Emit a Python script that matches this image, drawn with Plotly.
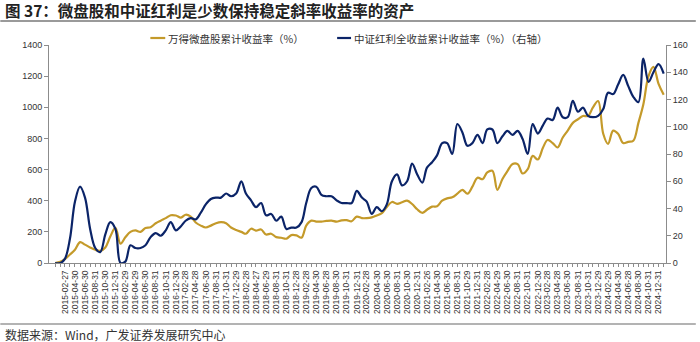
import pandas as pd
import plotly.graph_objects as go

# ---------------- data ----------------
dates = pd.date_range("2014-12-31", "2025-01-31", freq="ME")

microcap = [0, 8, 25, 55, 85, 134, 118, 100, 85, 78, 100, 170,
            225, 124, 165, 200, 209, 200, 225, 230, 255, 272,
            288, 307, 305, 292, 310, 298, 260, 240, 228, 240,
            255, 262, 256, 228, 212, 200, 188, 220, 208, 215,
            183, 188, 166, 162, 156, 179, 177, 163, 240, 272,
            266, 266, 270, 272, 266, 274, 275, 268, 298, 288,
            288, 293, 305, 320, 360, 392, 380, 390, 400, 379,
            345, 322, 342, 362, 364, 400, 415, 422, 445, 470,
            445, 490, 548, 538, 582, 592, 470, 540, 590, 636,
            635, 575, 603, 688, 665, 740, 790, 770, 742, 806,
            850, 900, 923, 944, 944, 1000, 1040, 830, 765, 850,
            830, 770, 778, 785, 900, 1020, 1200, 1260, 1150, 1080]

dividend = [0, 0, 3, 18, 45, 56, 48, 25, 11, 8, 21, 30,
            25, 0, 1, 13, 11, 11, 13, 19, 22, 20,
            24, 30, 24, 27, 31, 33, 32, 37, 43, 47,
            48, 48, 51, 49, 51, 60, 51, 46, 41, 44,
            35, 36, 31, 34, 25, 26, 26, 30, 44, 55,
            56, 50, 49, 49, 46, 44, 44, 44, 53, 48,
            45, 36, 41, 38, 43, 60, 65, 57, 60, 73,
            65, 59, 70, 74, 79, 88, 88, 80, 102, 96,
            86, 88, 94, 88, 98, 98, 88, 93, 97, 94,
            97, 91, 80, 102, 95, 101, 106, 105, 114, 107,
            107, 119, 111, 114, 108, 107, 108, 113, 125, 124,
            131, 138, 130, 122, 118, 150, 133, 140, 146, 139]

tick_labels = []
for y in range(2015, 2025):
    for mth in [2, 4, 6, 8, 10, 12]:
        tick_labels.append(pd.Timestamp(y, mth, 1) + pd.offsets.MonthEnd(0))
# trading-day labels as shown in the chart
tick_text = ["2015-02-27", "2015-04-30", "2015-06-30", "2015-08-31", "2015-10-30", "2015-12-31",
             "2016-02-29", "2016-04-29", "2016-06-30", "2016-08-31", "2016-10-31", "2016-12-30",
             "2017-02-28", "2017-04-28", "2017-06-30", "2017-08-31", "2017-10-31", "2017-12-29",
             "2018-02-28", "2018-04-27", "2018-06-29", "2018-08-31", "2018-10-31", "2018-12-28",
             "2019-02-28", "2019-04-30", "2019-06-28", "2019-08-30", "2019-10-31", "2019-12-31",
             "2020-02-28", "2020-04-30", "2020-06-30", "2020-08-31", "2020-10-30", "2020-12-31",
             "2021-02-26", "2021-04-30", "2021-06-30", "2021-08-31", "2021-10-29", "2021-12-31",
             "2022-02-28", "2022-04-29", "2022-06-30", "2022-08-31", "2022-10-31", "2022-12-30",
             "2023-02-28", "2023-04-28", "2023-06-30", "2023-08-31", "2023-10-31", "2023-12-29",
             "2024-02-29", "2024-04-30", "2024-06-28", "2024-08-30", "2024-10-31", "2024-12-31"]

name_gold = "万得微盘股累计收益率（%）"
name_blue = "中证红利全收益累计收益率（%）（右轴）"
title_text = "<b>图 37：微盘股和中证红利是少数保持稳定斜率收益率的资产</b>"
source_text = "数据来源：Wind，广发证券发展研究中心"

GOLD = "#C49A2A"
BLUE = "#0B2468"
AXIS = "#8C8C8C"
FONT = "Liberation Sans, Arial, Noto Sans CJK SC, sans-serif"
CJK = "Noto Sans CJK SC, sans-serif"

W, H = 700, 342
L, R, T, B = 49, 30, 45, 79
pw, ph = W - L - R, H - T - B


def px(x):
    return (x - L) / pw


def py(y):
    return (H - B - y) / ph


# all month ticks; labels every other month
tickvals = list(dates)
label_map = {d: t for d, t in zip(tick_labels, tick_text)}
ticktext = [label_map.get(d, "") for d in dates]

fig = go.Figure()
fig.add_trace(go.Scatter(x=dates, y=microcap, name=name_gold, mode="lines",
                         line=dict(color=GOLD, width=2.2, shape="spline", smoothing=1.0),
                         yaxis="y", showlegend=False))
fig.add_trace(go.Scatter(x=dates, y=dividend, name=name_blue, mode="lines",
                         line=dict(color=BLUE, width=2.2, shape="spline", smoothing=1.0),
                         yaxis="y2", showlegend=False))

fig.update_layout(
    width=W, height=H,
    margin=dict(l=L, r=R, t=T, b=B),
    paper_bgcolor="white", plot_bgcolor="white",
    font=dict(family=FONT, color="#333333"),
    xaxis=dict(type="date", range=["2014-11-24", "2025-02-14"],
               tickmode="array", tickvals=tickvals, ticktext=ticktext,
               tickangle=-90, tickfont=dict(size=8.5, color="#333333"),
               showline=True, linecolor=AXIS, linewidth=1,
               ticks="outside", ticklen=3, tickcolor=AXIS,
               showgrid=False, zeroline=False),
    yaxis=dict(range=[0, 1400], tickvals=list(range(0, 1401, 200)),
               tickfont=dict(size=9, color="#333333"),
               showline=True, linecolor=AXIS, linewidth=1,
               ticks="outside", ticklen=4, tickcolor=AXIS,
               showgrid=False, zeroline=False),
    yaxis2=dict(range=[0, 160], tickvals=list(range(0, 161, 20)),
                overlaying="y", side="right",
                tickfont=dict(size=9, color="#333333"),
                showline=True, linecolor=AXIS, linewidth=1,
                ticks="outside", ticklen=4, tickcolor=AXIS,
                showgrid=False, zeroline=False),
)

shapes = [
    # rule under title
    dict(type="line", xref="paper", yref="paper", x0=px(0), x1=px(W), y0=py(21), y1=py(21),
         line=dict(color="#9A9A9A", width=2)),
    # rule above source
    dict(type="line", xref="paper", yref="paper", x0=px(0), x1=px(W), y0=py(324), y1=py(324),
         line=dict(color="#9A9A9A", width=1.5)),
    # legend markers
    dict(type="line", xref="paper", yref="paper", x0=px(151), x1=px(166), y0=py(38), y1=py(38),
         line=dict(color=GOLD, width=2.2)),
    dict(type="line", xref="paper", yref="paper", x0=px(339), x1=px(353), y0=py(38), y1=py(38),
         line=dict(color=BLUE, width=2.2)),
]

annotations = [
    dict(text=title_text, xref="paper", yref="paper", x=px(3), y=py(10),
         xanchor="left", yanchor="middle", showarrow=False,
         font=dict(family=CJK, size=15.5, color="#222222")),
    dict(text=name_gold, xref="paper", yref="paper", x=px(167), y=py(38),
         xanchor="left", yanchor="middle", showarrow=False,
         font=dict(family=CJK, size=10.5, color="#333333")),
    dict(text=name_blue, xref="paper", yref="paper", x=px(354), y=py(38),
         xanchor="left", yanchor="middle", showarrow=False,
         font=dict(family=CJK, size=10.5, color="#333333")),
    dict(text=source_text, xref="paper", yref="paper", x=px(3), y=py(334),
         xanchor="left", yanchor="middle", showarrow=False,
         font=dict(family=CJK, size=12, color="#333333")),
]
fig.update_layout(shapes=shapes, annotations=annotations)

fig.write_html("out.html")
